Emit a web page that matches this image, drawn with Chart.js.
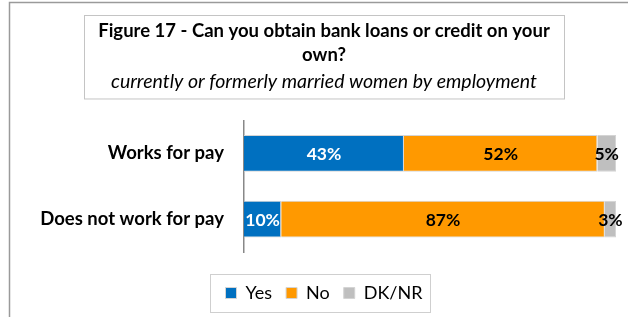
<!DOCTYPE html>
<html>
<head>
<meta charset="utf-8">
<script src="https://cdn.jsdelivr.net/npm/chart.js@4.4.0/dist/chart.umd.min.js"></script>
<style>
  html, body { margin: 0; padding: 0; background: #fff; }
  #wrap { position: relative; width: 628px; height: 317px; }
</style>
</head>
<body>
<div id="wrap"><canvas id="chart-loans"></canvas></div>
<script>
const categories = ['Works for pay', 'Does not work for pay'];
const yesValues = [43, 10];
const noValues = [52, 87];
const dkValues = [5, 3];
const seriesNames = ['Yes', 'No', 'DK/NR'];
const titleLines = ['Figure 17 - Can you obtain bank loans or credit on your', 'own?'];
const subtitleText = 'currently or formerly married women by employment';

const FONT = 'Lato, "Open Sans", sans-serif';
const TITLE_SIZE = 18.5;
const labelColors = ['#ffffff', '#000000', '#000000'];

// frame, title box, legend box and the % labels on the bars
const decorations = {
  id: 'decorations',
  beforeDraw(chart) {
    const ctx = chart.ctx;
    ctx.save();
    // outer frame, only the left and top edges show
    ctx.strokeStyle = '#9a9a9a';
    ctx.lineWidth = 1.5;
    ctx.beginPath();
    ctx.moveTo(9.5, chart.height);
    ctx.lineTo(9.5, 2.5);
    ctx.lineTo(chart.width, 2.5);
    ctx.stroke();

    // box round the title and subtitle
    const t = chart.titleBlock;
    ctx.font = 'bold ' + TITLE_SIZE + 'px ' + FONT;
    const w = ctx.measureText(titleLines[0]).width;
    const cx = (t.left + t.right) / 2;
    const top = t.top + 15;
    const bottom = chart.chartArea.top - 22;
    ctx.strokeStyle = '#c4c4c4';
    ctx.lineWidth = 1;
    ctx.strokeRect(Math.round(cx - w / 2 - 14) + 0.5, top + 0.5, Math.round(w + 28), bottom - top);
    ctx.restore();
  },
  afterDatasetsDraw(chart) {
    const ctx = chart.ctx;
    ctx.save();
    ctx.font = 'bold 17.5px ' + FONT;
    ctx.textAlign = 'center';
    ctx.textBaseline = 'middle';
    chart.data.datasets.forEach((ds, i) => {
      chart.getDatasetMeta(i).data.forEach((bar, j) => {
        const p = bar.getCenterPoint();
        ctx.fillStyle = labelColors[i];
        ctx.fillText(ds.data[j] + '%', p.x, p.y + 1);
      });
    });
    ctx.restore();
  },
  afterDraw(chart) {
    const hb = chart.legend.legendHitBoxes;
    if (!hb || !hb.length) return;
    const ctx = chart.ctx;
    const last = hb[hb.length - 1];
    const left = Math.round(hb[0].left - 16);
    const right = Math.round(last.left + last.width + 8);
    const cy = Math.round(hb[0].top + hb[0].height / 2);
    ctx.save();
    ctx.strokeStyle = '#cfcfcf';
    ctx.lineWidth = 1;
    ctx.strokeRect(left + 0.5, cy - 19 + 0.5, right - left, 38);
    ctx.restore();
  }
};

const chartLoans = document.getElementById('chart-loans');

new Chart(chartLoans, {
  type: 'bar',
  data: {
    labels: categories,
    datasets: [
      { label: seriesNames[0], data: yesValues, backgroundColor: '#0070c0' },
      { label: seriesNames[1], data: noValues, backgroundColor: '#ff9900' },
      { label: seriesNames[2], data: dkValues, backgroundColor: '#bfbfbf' }
    ]
  },
  options: {
    indexAxis: 'y',
    responsive: true,
    maintainAspectRatio: false,
    animation: false,
    devicePixelRatio: 1,
    layout: {
      padding: { left: 32, right: 12, top: 0, bottom: 5 }
    },
    datasets: {
      bar: {
        categoryPercentage: 0.8,
        barPercentage: 0.7,
        borderColor: '#d4d4d4',
        borderWidth: 1
      }
    },
    scales: {
      x: {
        stacked: true,
        min: 0,
        max: 100,
        display: true,
        ticks: { display: false },
        grid: { display: false },
        border: { display: false },
        afterFit: s => { s.height = 18; }
      },
      y: {
        stacked: true,
        grid: { display: false, drawTicks: false },
        border: { color: '#888888', width: 1.5 },
        ticks: {
          color: '#000',
          padding: 20,
          font: { family: FONT, size: 18.5, weight: 'bold' }
        },
        afterFit: s => { s.width = 212; }
      }
    },
    plugins: {
      title: {
        display: true,
        text: titleLines,
        color: '#000',
        font: { family: FONT, size: TITLE_SIZE, weight: 'bold', lineHeight: 1.3 },
        padding: { top: 19, bottom: 0 }
      },
      subtitle: {
        display: true,
        text: subtitleText,
        color: '#000',
        font: { family: FONT, size: 19.5, style: 'italic', weight: 'normal', lineHeight: 1.25 },
        padding: { top: 2, bottom: 27 }
      },
      legend: {
        position: 'bottom',
        labels: {
          color: '#000',
          boxWidth: 11,
          boxHeight: 11,
          padding: 14,
          font: { family: FONT, size: 18 }
        }
      },
      tooltip: { enabled: false }
    }
  },
  plugins: [decorations]
});
</script>
</body>
</html>
